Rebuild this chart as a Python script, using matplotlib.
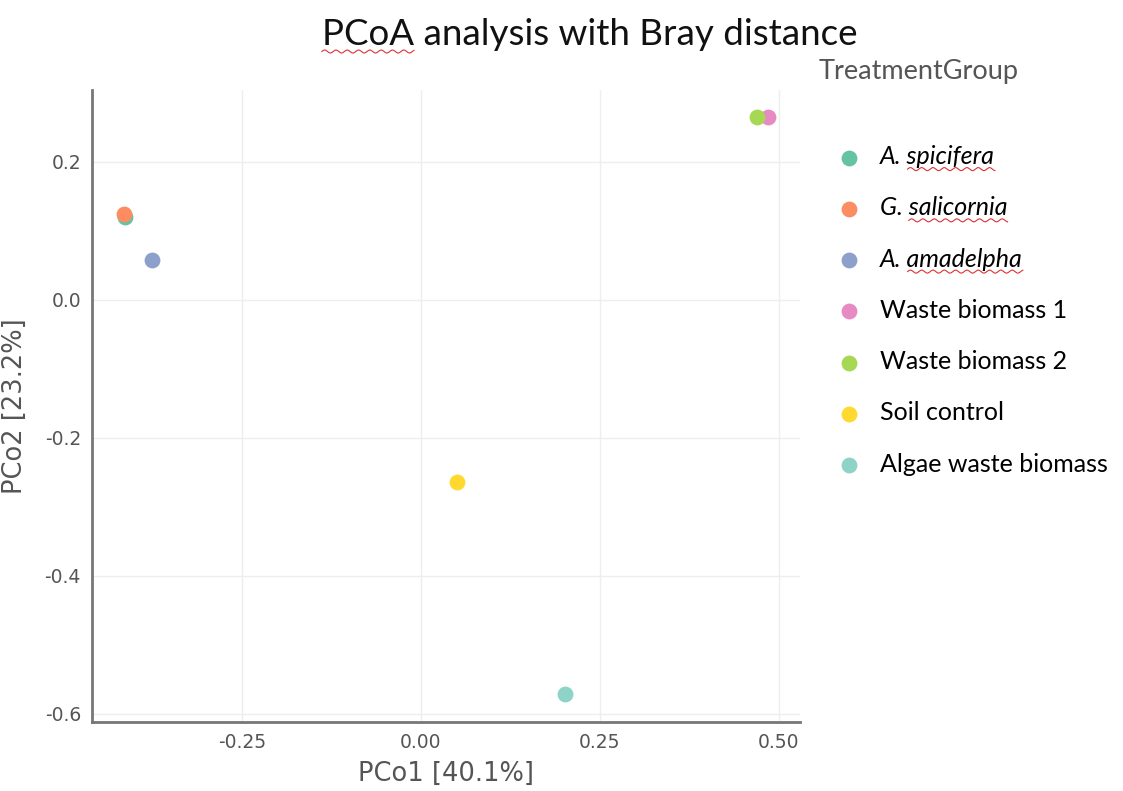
import numpy as np
import matplotlib
matplotlib.use("Agg")
import matplotlib.pyplot as plt
from matplotlib.lines import Line2D

groups = ["A. spicifera", "G. salicornia", "A. amadelpha", "Waste biomass 1",
          "Waste biomass 2", "Soil control", "Algae waste biomass"]
pco1 = [-0.413, -0.415, -0.376, 0.485, 0.469, 0.050, 0.201]
pco2 = [0.120, 0.125, 0.058, 0.265, 0.265, -0.264, -0.571]
colors = ["#66c2a5", "#fc8d62", "#8da0cb", "#e78ac3", "#a6d854", "#ffd92f", "#8dd3c7"]
italic_groups = ["A. spicifera", "G. salicornia", "A. amadelpha"]

x_ticks = [-0.25, 0.0, 0.25, 0.50]
y_ticks = [-0.6, -0.4, -0.2, 0.0, 0.2]

text_font = ["Lato", "DejaVu Sans"]
tick_font = ["Liberation Sans Narrow", "DejaVu Sans"]


def text_width(fig, s, **kw):
    tmp = fig.text(0, 0, s, **kw)
    fig.canvas.draw()
    w = tmp.get_window_extent().width
    tmp.remove()
    return w


def squiggle(fig, text, skip_px=0.0, length_px=None):
    # red wavy underline under part of a text object
    fig.canvas.draw()
    bb = text.get_window_extent()
    x0 = bb.x0 + skip_px
    x1 = bb.x1 if length_px is None else x0 + length_px
    xs = np.linspace(x0, x1, 200)
    ys = bb.y0 - 1 + 1.5 * np.sin((xs - x0) / 1.8)
    inv = fig.transFigure.inverted()
    pts = inv.transform(np.column_stack([xs, ys]))
    fig.add_artist(Line2D(pts[:, 0], pts[:, 1], color="#e03030", lw=0.8))


fig = plt.figure(figsize=(11.23, 7.91), dpi=100)
ax = fig.add_axes([0.082, 0.087, 0.630, 0.799])

for g, x, y, c in zip(groups, pco1, pco2, colors):
    ax.scatter(x, y, s=130, color=c, label=g, zorder=3, linewidths=0)

ax.set_xlim(-0.459, 0.529)
ax.set_ylim(-0.612, 0.304)
ax.set_xticks(x_ticks)
ax.set_xticklabels(["-0.25", "0.00", "0.25", "0.50"])
ax.set_yticks(y_ticks)
ax.set_yticklabels(["-0.6", "-0.4", "-0.2", "0.0", "0.2"])
ax.grid(True, color="#eeeeee", lw=1)
ax.set_axisbelow(True)
for side in ["top", "right"]:
    ax.spines[side].set_visible(False)
for side in ["left", "bottom"]:
    ax.spines[side].set_color("#777777")
    ax.spines[side].set_linewidth(2)
ax.tick_params(length=0, pad=8, labelsize=13.5, labelcolor="#555555")
for lab in ax.get_xticklabels() + ax.get_yticklabels():
    lab.set_family(tick_font)

ax.set_xlabel("PCo1 [40.1%]", fontsize=18.5, color="#555555", family=tick_font, labelpad=6)
ax.set_ylabel("PCo2 [23.2%]", fontsize=18.5, color="#555555", family=tick_font, labelpad=12)

title_kw = dict(fontsize=26.5, family=text_font, color="#111111")
title = fig.text(0.525, 0.957, "PCoA analysis with Bray distance", ha="center", va="center",
                 **title_kw)
fig.text(0.729, 0.909, "TreatmentGroup", ha="left", va="center", fontsize=19.5,
         family=text_font, color="#555555")

leg_kw = dict(family=text_font, size=18)
leg = fig.legend(loc="upper left", bbox_to_anchor=(0.718, 0.845), frameon=False,
                 prop=leg_kw, labelspacing=1.13, handletextpad=0.45, handlelength=1.6)
for t in leg.get_texts():
    if t.get_text() in italic_groups:
        t.set_fontstyle("italic")

squiggle(fig, title, 0.0, text_width(fig, "PCoA", **title_kw))
for t in leg.get_texts():
    if t.get_text() in italic_groups:
        prefix = t.get_text().split(" ")[0] + " "
        skip = text_width(fig, prefix, family=text_font, size=18, fontstyle="italic")
        squiggle(fig, t, skip)

fig.savefig("out.png", dpi=100)
